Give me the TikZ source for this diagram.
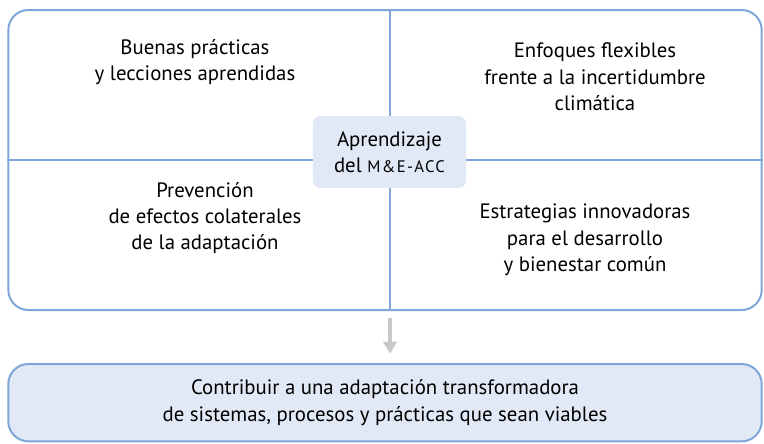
\documentclass[tikz,border=0pt]{standalone}
\usepackage{fontspec}
\setmainfont{PT Sans}
\usetikzlibrary{positioning,arrows.meta}
\definecolor{azulborde}{HTML}{7FA6DA}
\definecolor{azulfondo}{HTML}{E2E9F6}
\definecolor{gris}{HTML}{C8C8C8}
\begin{document}
\begin{tikzpicture}[x=0.75pt, y=-0.75pt, node distance=2cm,
  texto/.style={align=center, font=\fontsize{15.6}{19.8}\selectfont}]
            \useasboundingbox (0,0) rectangle (764,443);
            % Marco principal
            \node[draw=azulborde, line width=1.5pt, rounded corners=15pt, minimum width=565pt, minimum height=225pt] (marco) at (385,160) {};
            \draw[azulborde, line width=1.2pt] ([xshift=3.75pt]marco.north) -- ([xshift=3.75pt]marco.south);
            \draw[azulborde, line width=1.2pt] (marco.west) -- (marco.east);
            % Cuadrantes
            \node[texto] (buenas) at (195,62) {Buenas prácticas\\y lecciones aprendidas};
            \node[texto] (enfoques) at (595,77) {Enfoques flexibles\\frente a la incertidumbre\\climática};
            \node[texto] (prevencion) at (205,218) {Prevención\\de efectos colaterales\\de la adaptación};
            \node[texto] (estrategias) at (585,240) {Estrategias innovadoras\\para el desarrollo\\y bienestar común};
            % Aprendizaje central
            \node[texto, fill=azulfondo, rounded corners=6pt, minimum width=115pt, minimum height=54pt] (aprendizaje) at (389.5,152) {Aprendizaje\\del {\fontsize{12.5}{14}\selectfont\addfontfeature{LetterSpace=8}M\&E-ACC}};
            % Resultado
            \node[texto, draw=azulborde, fill=azulfondo, line width=1.5pt, rounded corners=15pt, minimum width=565pt, minimum height=58pt, below=39pt of marco.south, anchor=north] (resultado) {Contribuir a una adaptación transformadora\\de sistemas, procesos y prácticas que sean viables};
            % Flecha
            \draw[-{Triangle[length=9pt, width=10pt]}, gris, line width=3pt, shorten <=5pt, shorten >=7pt] ([xshift=3.75pt]marco.south) -- ([xshift=3.75pt]resultado.north);
        \end{tikzpicture}
\end{document}
